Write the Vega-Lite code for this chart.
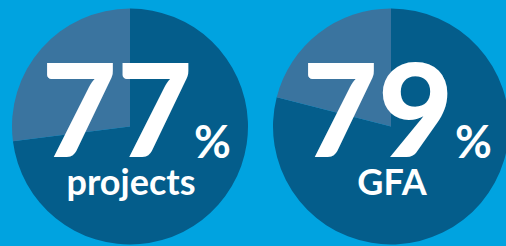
{
  "$schema": "https://vega.github.io/schema/vega-lite/v6.json",
  "width": 506,
  "height": 246,
  "autosize": {"type": "fit", "contains": "padding"},
  "padding": 0,
  "background": "#00A3E0",
  "config": {"view": {"stroke": null}},
  "datasets": {
    "slices": [
      {"chart": "projects", "part": "share", "value": 73},
      {"chart": "projects", "part": "rest", "value": 27},
      {"chart": "GFA", "part": "share", "value": 79},
      {"chart": "GFA", "part": "rest", "value": 21}
    ],
    "labels": [
      {"chart": "projects", "num": "77", "pct": "%", "name": "projects"},
      {"chart": "GFA", "num": "79", "pct": "%", "name": "GFA"}
    ]
  },
  "encoding": {
    "x": {"field": "chart", "type": "nominal", "scale": {"type": "point", "padding": 0, "domain": ["projects", "GFA"], "range": [130, 391]}, "axis": null},
    "y": {"field": "chart", "type": "nominal", "scale": {"type": "point", "padding": 0, "domain": ["projects", "GFA"], "range": [126.5, 126.5]}, "axis": null}
  },
  "layer": [
    {
      "data": {"name": "slices"},
      "transform": [
        {"stack": "value", "groupby": ["chart"], "as": ["t0", "t1"], "sort": [{"field": "part", "order": "descending"}]}
      ],
      "mark": {"type": "arc", "outerRadius": 118},
      "encoding": {
        "theta": {"field": "t0", "type": "quantitative", "scale": {"domain": [0, 100], "range": [0, 6.283185]}},
        "theta2": {"field": "t1"},
        "color": {"field": "part", "type": "nominal", "scale": {"domain": ["share", "rest"], "range": ["#045D8B", "#3A749F"]}, "legend": null}
      }
    },
    {
      "data": {"name": "labels"},
      "mark": {"type": "text", "font": "Lato", "fontWeight": 900, "fontSize": 130, "color": "white", "align": "center", "baseline": "alphabetic", "dx": -13, "dy": 30.5},
      "encoding": {"text": {"field": "num"}}
    },
    {
      "data": {"name": "labels"},
      "mark": {"type": "text", "font": "Lato", "fontWeight": "bold", "fontSize": 45, "color": "white", "align": "center", "baseline": "alphabetic", "dx": 82.5, "dy": 31},
      "encoding": {"text": {"field": "pct"}}
    },
    {
      "data": {"name": "labels"},
      "mark": {"type": "text", "font": "Lato", "fontWeight": "bold", "fontSize": 36, "color": "white", "align": "center", "baseline": "alphabetic", "dx": 1, "dy": 68.5},
      "encoding": {"text": {"field": "name"}}
    }
  ]
}
